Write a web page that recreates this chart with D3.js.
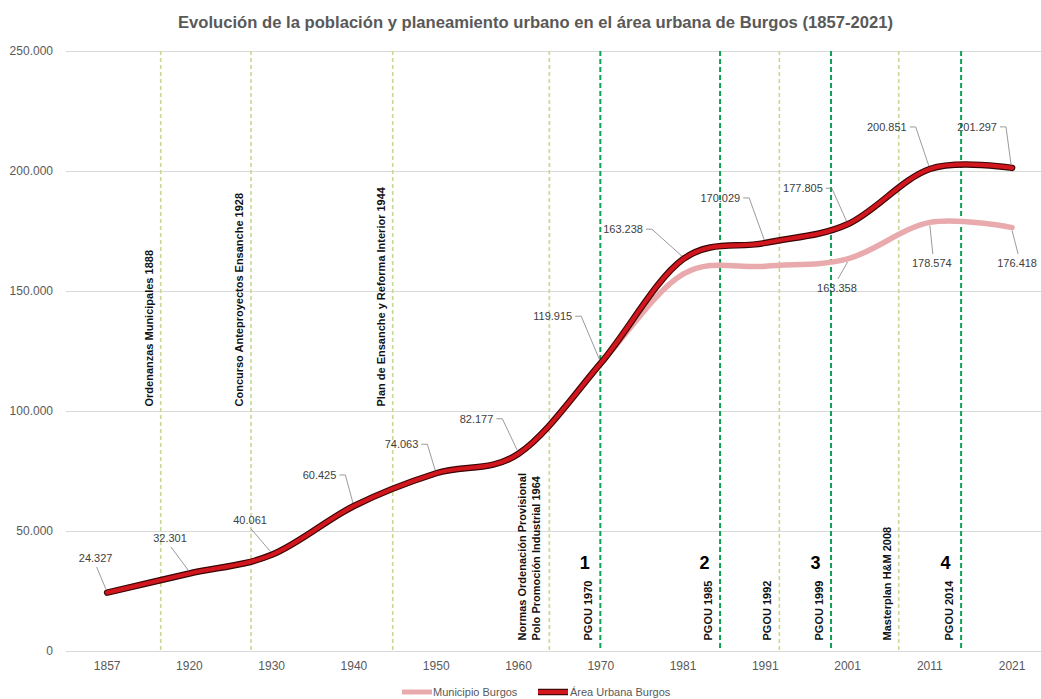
<!DOCTYPE html>
<html>
<head>
<meta charset="utf-8">
<script src="https://cdn.jsdelivr.net/npm/d3@7"></script>
<style>
  html, body { margin: 0; padding: 0; background: #fff; }
  svg { display: block; }
  text { font-family: "Liberation Sans", Arial, sans-serif; }
</style>
</head>
<body>
<svg id="chart" width="1041" height="699"></svg>
<script>
// ---------------- DATA ----------------
const title = "Evolución de la población y planeamiento urbano en el área urbana de Burgos (1857-2021)";
const categories = ["1857","1920","1930","1940","1950","1960","1970","1981","1991","2001","2011","2021"];
const areaUrbana = [24327, 32301, 40061, 60425, 74063, 82177, 119915, 163238, 170029, 177805, 200851, 201297];
const municipio  = [24327, 32301, 40061, 60425, 74063, 82177, 119915, 157000, 160300, 163358, 178574, 176418];
const yTicks = [0, 50000, 100000, 150000, 200000, 250000];
const seriesNames = ["Municipio Burgos", "Área Urbana Burgos"];
// events on the category axis: position in category-index units
const eventPos    = [0.651, 1.749, 3.471, 5.375, 5.995, 7.450, 8.171, 8.799, 9.622, 10.380];
const eventType   = ["minor","minor","minor","minor","major","major","minor","major","minor","major"];
const eventLabels = [
  ["Ordenanzas Municipales 1888"],
  ["Concurso Anteproyectos Ensanche 1928"],
  ["Plan de Ensanche y Reforma Interior 1944"],
  ["Normas Ordenación Provisional", "Polo Promoción Industrial  1964"],
  ["PGOU 1970"],
  ["PGOU 1985"],
  ["PGOU 1992"],
  ["PGOU 1999"],
  ["Masterplan H&M 2008"],
  ["PGOU 2014"]
];
const eventNumbers = ["", "", "", "", "1", "2", "", "3", "", "4"];
const municipioLabelIdx = [9, 10, 11];

// ---------------- LAYOUT ----------------
const W = 1041, H = 699;
const plotLeft = 66, plotTop = 51, plotBottom = 651;
const step = 82.27;
const eventRow = ["top","top","top","bottom","bottom","bottom","bottom","bottom","bottom","bottom"];
// label offsets for area labels [dx, dy, leaderStyle]
const areaLabelLayout = [
  [-11.5,-34.6,"below"],[-19.4,-35.5,"below"],[-21.6,-35,"below"],
  [-34.4,-31,"side"],[-34.7,-29,"side"],[-42,-35,"side"],[-48,-47,"side"],
  [-60,-30,"side"],[-45,-45,"side"],[-44.6,-36,"side"],[-43,-42,"side"],[-35,-41,"side"]
];
const muniLabelLayout = [[-10.6,29],[2,40.6],[5,35.4]];

const svg = d3.select("#chart");
const loc = d3.formatLocale({decimal: ",", thousands: ".", grouping: [3], currency: ["", ""]});
const fmt = loc.format(",d");

const x = d3.scaleBand().domain(categories).range([plotLeft, plotLeft + step * categories.length]).padding(0);
const xc = c => x(c) + x.bandwidth() / 2;
const xPos = p => plotLeft + (p + 0.5) * x.bandwidth();
const y = d3.scaleLinear().domain([0, 250000]).range([plotBottom, plotTop]);

// Title
svg.append("text")
  .attr("x", 535.5).attr("y", 28)
  .attr("text-anchor", "middle")
  .attr("font-size", 17).attr("font-weight", "bold")
  .attr("fill", "#595959")
  .attr("textLength", 715).attr("lengthAdjust", "spacingAndGlyphs")
  .text(title);

// Gridlines
svg.append("g").selectAll("line").data(yTicks).join("line")
  .attr("x1", plotLeft).attr("x2", W)
  .attr("y1", d => y(d) + 0.5).attr("y2", d => y(d) + 0.5)
  .attr("stroke", "#d9d9d9").attr("stroke-width", 1);

// Y labels
svg.append("g").selectAll("text").data(yTicks).join("text")
  .attr("x", 53).attr("y", d => y(d))
  .attr("dy", "0.35em")
  .attr("text-anchor", "end")
  .attr("font-size", 12).attr("fill", "#595959")
  .text(d => d === 0 ? "0" : fmt(d));

// X labels
svg.append("g").selectAll("text").data(categories).join("text")
  .attr("x", d => xc(d)).attr("y", 666)
  .attr("dy", "0.35em")
  .attr("text-anchor", "middle")
  .attr("font-size", 12).attr("fill", "#595959")
  .text(d => d);

// Event lines
const evG = svg.append("g");
eventPos.forEach((p, i) => {
  const ex = xPos(p);
  const major = eventType[i] === "major";
  evG.append("line")
    .attr("x1", ex).attr("x2", ex)
    .attr("y1", plotTop).attr("y2", plotBottom)
    .attr("stroke", major ? "#12a055" : "#c6d990")
    .attr("stroke-width", major ? 2 : 1.6)
    .attr("stroke-dasharray", major ? "5,3" : "4,3");
});

// Lines
const line = d3.line().x((d, i) => xc(categories[i])).y(d => y(d)).curve(d3.curveCardinal.tension(0));
svg.append("path").datum(municipio).attr("d", line)
  .attr("fill", "none").attr("stroke", "#e8aaac").attr("stroke-width", 5.5)
  .attr("stroke-linecap", "round").attr("stroke-linejoin", "round");
svg.append("path").datum(areaUrbana).attr("d", line)
  .attr("fill", "none").attr("stroke", "#3a0505").attr("stroke-width", 6.5)
  .attr("stroke-linecap", "round").attr("stroke-linejoin", "round");
svg.append("path").datum(areaUrbana).attr("d", line)
  .attr("fill", "none").attr("stroke", "#d2161d").attr("stroke-width", 4.2)
  .attr("stroke-linecap", "round").attr("stroke-linejoin", "round");

// Event labels (drawn above lines)
const labG = svg.append("g");
eventPos.forEach((p, i) => {
  const ex = xPos(p);
  const lines = eventLabels[i];
  const bottomY = eventRow[i] === "top" ? 406.5 : 640.5;
  lines.forEach((t, k) => {
    const off = lines.length === 1 ? -12 : (k === 0 ? -27.6 : -13.3);
    labG.append("text")
      .attr("transform", `translate(${ex + off},${bottomY}) rotate(-90)`)
      .attr("dy", "0.35em")
      .attr("text-anchor", "start")
      .attr("font-size", 11).attr("font-weight", "bold")
      .attr("fill", "#111")
      .text(t);
  });
  if (eventNumbers[i]) {
    labG.append("text")
      .attr("x", ex - 15.5).attr("y", 563)
      .attr("dy", "0.35em")
      .attr("text-anchor", "middle")
      .attr("font-size", 18).attr("font-weight", "bold")
      .attr("fill", "#000")
      .text(eventNumbers[i]);
  }
});

// Data labels
const dlG = svg.append("g");
function addLabel(px, py, dx, dy, style, val) {
  const cx = px + dx, cy = py + dy;
  const t = dlG.append("text")
    .attr("x", cx).attr("y", cy).attr("dy", "0.35em")
    .attr("text-anchor", "middle")
    .attr("font-size", 11).attr("fill", "#404040")
    .text(fmt(val));
  const w = t.node().getComputedTextLength();
  let pts;
  if (style === "side") {
    pts = [[cx + w / 2 + 3, cy], [cx + w / 2 + 9, cy], [px - 1, py - 3]];
  } else if (style === "below") {
    pts = [[cx + 1, cy + 9], [px - 1, py - 3]];
  } else {
    pts = [[cx + 1, cy - 9], [px, py + 3]];
  }
  dlG.append("path").attr("d", d3.line()(pts))
    .attr("fill", "none").attr("stroke", "#808080").attr("stroke-width", 0.8);
}
areaUrbana.forEach((v, i) => {
  const L = areaLabelLayout[i];
  addLabel(xc(categories[i]), y(v), L[0], L[1], L[2], v);
});
municipioLabelIdx.forEach((idx, k) => {
  const L = muniLabelLayout[k];
  addLabel(xc(categories[idx]), y(municipio[idx]), L[0], L[1], "above", municipio[idx]);
});

// Legend
const lg = svg.append("g");
lg.append("line").attr("x1", 402).attr("x2", 432).attr("y1", 692).attr("y2", 692)
  .attr("stroke", "#e8aaac").attr("stroke-width", 5);
lg.append("text").attr("x", 433).attr("y", 692).attr("dy", "0.35em")
  .attr("font-size", 11).attr("fill", "#595959").text(seriesNames[0]);
lg.append("line").attr("x1", 538).attr("x2", 568).attr("y1", 692).attr("y2", 692)
  .attr("stroke", "#3a0505").attr("stroke-width", 6.5);
lg.append("line").attr("x1", 538).attr("x2", 568).attr("y1", 692).attr("y2", 692)
  .attr("stroke", "#d2161d").attr("stroke-width", 4.2);
lg.append("text").attr("x", 570).attr("y", 692).attr("dy", "0.35em")
  .attr("font-size", 11).attr("fill", "#595959").text(seriesNames[1]);
</script>
</body>
</html>
